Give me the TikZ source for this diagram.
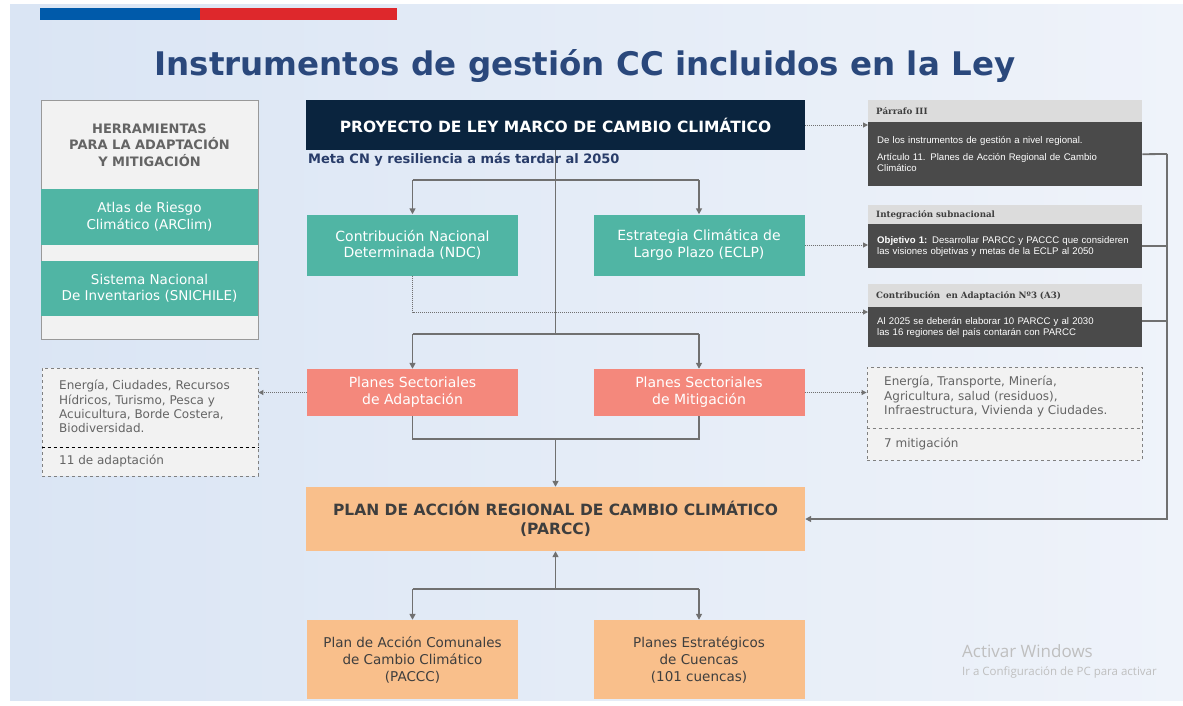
\documentclass[tikz,border=0pt]{standalone}
\usepackage{fontspec}
\setmainfont{DejaVu Sans}
\newfontfamily\panelfont{Liberation Sans}
\newfontfamily\headfont{DejaVu Serif}
\newfontfamily\winfont{Open Sans}
\usetikzlibrary{arrows.meta,calc}
\definecolor{bgL}{RGB}{218,229,244}
\definecolor{bgR}{RGB}{239,243,250}
\definecolor{chBlue}{RGB}{0,90,170}
\definecolor{chRed}{RGB}{222,40,44}
\definecolor{titleblue}{RGB}{42,72,124}
\definecolor{metablue}{RGB}{40,60,105}
\definecolor{navy}{RGB}{10,36,62}
\definecolor{tealc}{RGB}{80,181,164}
\definecolor{salmon}{RGB}{244,136,124}
\definecolor{peach}{RGB}{249,191,139}
\definecolor{darkpanel}{RGB}{74,74,74}
\definecolor{hdrgray}{RGB}{220,220,220}
\definecolor{conngray}{RGB}{112,112,112}
\definecolor{lpfill}{RGB}{242,242,242}
\definecolor{txtgray}{RGB}{100,100,100}
\definecolor{darktxt}{RGB}{62,62,62}
\newcommand{\fsz}[2]{\fontsize{#1}{#2}\selectfont}
\begin{document}
\begin{tikzpicture}[x=1pt,y=-1pt,
  box/.style={rectangle, inner sep=0pt, align=center},
  ln/.style={draw=conngray, line width=1.8pt},
  ar/.style={draw=conngray, line width=1.8pt, -{Triangle[length=6pt,width=6pt]}},
  dar/.style={draw=conngray, line width=1pt, dash pattern=on 1pt off 1pt, -{Triangle[length=5pt,width=5pt]}},
  phead/.style={rectangle, fill=hdrgray, inner xsep=8pt, inner ysep=0pt, text width=258pt, align=left, font=\headfont\bfseries\fsz{8.7}{10}, text=darktxt},
  pbody/.style={rectangle, fill=darkpanel, inner xsep=9pt, inner ysep=0pt, text width=256pt, align=left, font=\panelfont\fsz{9.6}{11.3}, text=white},
  dbox/.style={rectangle, draw=gray, dashed, line width=0.9pt, fill=lpfill},
  dtext/.style={inner sep=0pt, align=left, font=\fsz{12}{14.4}, text=txtgray}
]
\useasboundingbox (0,0) rectangle (1183,705);
\fill[white] (0,0) rectangle (1183,705);
\shade[left color=bgL, right color=bgR] (10,4) rectangle (1183,700);
\fill[chBlue] (40,8) rectangle (200,20);
\fill[chRed] (200,8) rectangle (397,20);

% title
\node[inner sep=0pt, font=\bfseries\fsz{32.5}{38}, text=titleblue] (titletext) at (585,66) {Instrumentos de gestión CC incluidos en la Ley};

% left tools panel
\node[box, fill=lpfill, draw=gray!80, line width=0.8pt, minimum width=217pt, minimum height=239pt] (lp) at (149.5,219.5) {};
\node[box, font=\bfseries\fsz{13}{16.5}, text=txtgray] (lpt) at (149.5,145) {HERRAMIENTAS\\PARA LA ADAPTACIÓN\\Y MITIGACIÓN};
\node[box, fill=tealc, text=white, font=\fsz{13.5}{16.5}, minimum width=217pt, minimum height=56pt] (arclim) at (149.5,217) {Atlas de Riesgo\\Climático (ARClim)};
\node[box, fill=tealc, text=white, font=\fsz{13.5}{16.5}, minimum width=217pt, minimum height=55pt] (snichile) at (149.5,288.5) {Sistema Nacional\\De Inventarios (SNICHILE)};

% main column
\node[box, fill=navy, text=white, font=\bfseries\fsz{15.5}{18}, minimum width=499pt, minimum height=50pt] (ley) at (555.5,125) {PROYECTO DE LEY MARCO DE CAMBIO CLIMÁTICO};
\node[inner sep=0pt, anchor=west, font=\bfseries\fsz{13}{15}, text=metablue] (meta) at (308,160) {Meta CN y resiliencia a más tardar al 2050};

\node[box, fill=tealc, text=white, font=\fsz{14}{16.5}, minimum width=211pt, minimum height=61pt] (ndc) at (412.5,245) {Contribución Nacional\\Determinada (NDC)};
\node[box, fill=tealc, text=white, font=\fsz{14}{16.5}, minimum width=211pt, minimum height=61pt] (eclp) at (699,245) {Estrategia Climática de\\Largo Plazo (ECLP)};

\node[box, fill=salmon, text=white, font=\fsz{14}{17}, minimum width=211pt, minimum height=47pt] (psa) at (412.5,392.5) {Planes Sectoriales\\de Adaptación};
\node[box, fill=salmon, text=white, font=\fsz{14}{17}, minimum width=211pt, minimum height=47pt] (psm) at (699,392.5) {Planes Sectoriales\\de Mitigación};

\node[box, fill=peach, text=darktxt, font=\bfseries\fsz{15.5}{19.5}, minimum width=499pt, minimum height=64pt] (parcc) at (555.5,519) {PLAN DE ACCIÓN REGIONAL DE CAMBIO CLIMÁTICO\\(PARCC)};

\node[box, fill=peach, text=darktxt, font=\fsz{13.5}{17}, minimum width=211pt, minimum height=79pt] (paccc) at (412.5,659.5) {Plan de Acción Comunales\\de Cambio Climático\\(PACCC)};
\node[box, fill=peach, text=darktxt, font=\fsz{13.5}{17}, minimum width=211pt, minimum height=79pt] (pec) at (699,659.5) {Planes Estratégicos\\de Cuencas\\(101 cuencas)};

% right panels
\node[phead, minimum height=22pt, anchor=north west] (p1h) at (868,100) {Párrafo III};
\node[pbody, minimum height=64pt, anchor=north west] (p1b) at (868,122) {\mbox{De los instrumentos de gestión a nivel regional.}\\[6pt]\mbox{Artículo 11. Planes de Acción Regional de Cambio}\\Climático};
\node[phead, minimum height=19pt, anchor=north west] (p2h) at (868,205) {Integración subnacional};
\node[pbody, minimum height=44pt, anchor=north west] (p2b) at (868,224) {\mbox{{\bfseries Objetivo 1:} Desarrollar PARCC y PACCC que consideren}\\\mbox{las visiones objetivas y metas de la ECLP al 2050}};
\node[phead, minimum height=23pt, anchor=north west] (p3h) at (868,284) {Contribución \ en Adaptación Nº3 (A3)};
\node[pbody, minimum height=40pt, anchor=north west] (p3b) at (868,307) {\mbox{Al 2025 se deberán elaborar 10 PARCC y al 2030}\\\mbox{las 16 regiones del país contarán con PARCC}};

% dashed side boxes
\node[dbox, minimum width=216pt, minimum height=108pt] (ldash) at (150,422) {};
\draw[black, dashed, line width=1pt] (ldash.west |- 0,447) -- (ldash.east |- 0,447);
\node[dtext, anchor=west] (ltxt) at (59,406.5) {Energía, Ciudades, Recursos\\Hídricos, Turismo, Pesca y\\Acuicultura, Borde Costera,\\Biodiversidad.};
\node[dtext, anchor=west] (lnum) at (59,460.5) {11 de adaptación};

\node[dbox, minimum width=275pt, minimum height=93pt] (rdash) at (1004.5,413.5) {};
\draw[gray, dashed, line width=0.9pt] (rdash.west |- 0,428) -- (rdash.east |- 0,428);
\node[dtext, anchor=west] (rtxt) at (884,396.5) {Energía, Transporte, Minería,\\Agricultura, salud (residuos),\\Infraestructura, Vivienda y Ciudades.};
\node[dtext, anchor=west] (rnum) at (884,444) {7 mitigación};

% connectors
\coordinate (j1) at (555.5,180);
\coordinate (j2) at (555.5,334);
\coordinate (j3) at (555.5,439);
\coordinate (j4) at (555.5,589);
\draw[ln] (ley.south) -- (j2);
\draw[ln] (ndc.north |- j1) -- (eclp.north |- j1);
\draw[ar] (ndc.north |- j1) -- (ndc.north);
\draw[ar] (eclp.north |- j1) -- (eclp.north);
\draw[ln] (psa.north |- j2) -- (psm.north |- j2);
\draw[ar] (psa.north |- j2) -- (psa.north);
\draw[ar] (psm.north |- j2) -- (psm.north);
\draw[ln] (psa.south) |- (j3) -| (psm.south);
\draw[ar] (j3) -- (parcc.north);
\draw[ar] (j4) -- (parcc.south);
\draw[ln] (paccc.north |- j4) -- (pec.north |- j4);
\draw[ar] (paccc.north |- j4) -- (paccc.north);
\draw[ar] (pec.north |- j4) -- (pec.north);

% dotted references
\draw[dar] (ley.east) -- (ley.east -| p1b.west);
\draw[dar] (eclp.east) -- (eclp.east -| p2b.west);
\draw[dar] (ndc.south) |- ($(p3b.north west)+(0,5)$);
\draw[dar] (psa.west) -- (psa.west -| ldash.east);
\draw[dar] (psm.east) -- (psm.east -| rdash.west);

% right trunk to PARCC
\coordinate (t1) at (1167,154);
\coordinate (t3) at (1167,321);
\draw[ln] (p1b.east) -- (t1);
\draw[ln] (p2b.east) -- (p2b.east -| t1);
\draw[ln] (t3 -| p3b.east) -- (t3);
\draw[ar] (t1) |- (parcc.east);

% watermark
\node[inner sep=0pt, anchor=west, font=\winfont\fsz{17}{19}, text=black!25] (wm1) at (962,651) {Activar Windows};
\node[inner sep=0pt, anchor=west, font=\winfont\fsz{11.5}{13}, text=black!25] (wm2) at (962,672) {Ir a Configuración de PC para activar};
\end{tikzpicture}
\end{document}
